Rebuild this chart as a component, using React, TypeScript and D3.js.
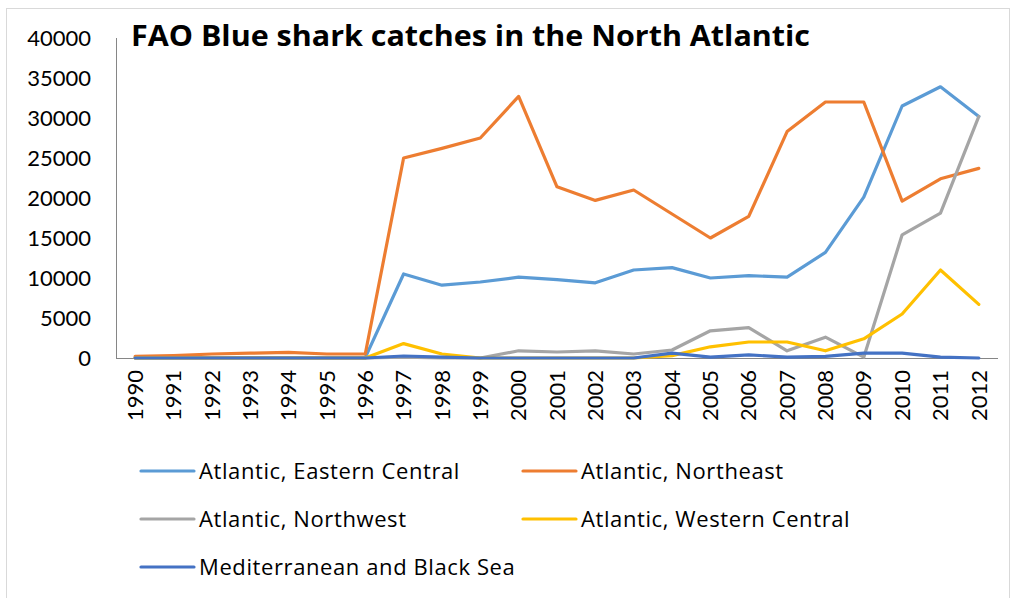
import { useMemo } from 'react';
import * as d3 from 'd3';

const years = [
    '1990', '1991', '1992', '1993', '1994', '1995', '1996', '1997', '1998', '1999', '2000', '2001',
    '2002', '2003', '2004', '2005', '2006', '2007', '2008', '2009', '2010', '2011', '2012',
];

const easternCentral = [
    50, 50, 50, 50, 50, 50, 50, 10500, 9100, 9500, 10100, 9800, 9400, 11000, 11300, 10000, 10300, 10100, 13200,
    20100, 31500, 33900, 30200,
];
const northeast = [
    200, 300, 500, 600, 700, 500, 500, 25000, 26200, 27500, 32700, 21400, 19700, 21000, 18000, 15000, 17700,
    28300, 32000, 32000, 19600, 22400, 23700,
];
const northwest = [
    0, 0, 0, 0, 0, 0, 0, 100, 0, 0, 900, 750, 900, 500, 1000, 3400, 3800, 900, 2600, 100, 15400, 18100, 30200,
];
const westernCentral = [
    0, 0, 0, 0, 0, 0, 0, 1800, 500, 0, 0, 0, 0, 0, 300, 1400, 2000, 2000, 900, 2400, 5500, 11000, 6700,
];
const mediterranean = [
    0, 0, 0, 0, 0, 0, 0, 250, 100, 0, 0, 0, 0, 0, 600, 100, 400, 100, 200, 600, 600, 100, 0,
];

const yTicks = [0, 5000, 10000, 15000, 20000, 25000, 30000, 35000, 40000];

const series = [
    { name: 'Atlantic, Eastern Central', values: easternCentral, color: '#5B9BD5' },
    { name: 'Atlantic, Northeast', values: northeast, color: '#ED7D31' },
    { name: 'Atlantic, Northwest', values: northwest, color: '#A5A5A5' },
    { name: 'Atlantic, Western Central', values: westernCentral, color: '#FFC000' },
    { name: 'Mediterranean and Black Sea', values: mediterranean, color: '#4472C4' },
];

const WIDTH = 1014;
const HEIGHT = 598;
const FONT = 'Lato, "Open Sans", sans-serif';
const LEGEND_FONT = '"Open Sans", Lato, sans-serif';

export default function App() {
    const plot = { left: 116, right: 998, top: 38, bottom: 358 };

    const x = useMemo(
        () => d3.scalePoint<string>().domain(years).range([plot.left, plot.right]).padding(0.5),
        []
    );
    const y = useMemo(() => d3.scaleLinear().domain([0, 40000]).range([plot.bottom, plot.top]), []);

    const line = d3
        .line<number>()
        .x((_, i) => x(years[i]) ?? 0)
        .y((v) => y(v));

    // legend laid out in two columns, like the spreadsheet default
    const legendRows = [
        [series[0], series[1]],
        [series[2], series[3]],
        [series[4]],
    ];

    return (
        <svg
            width={WIDTH}
            height={HEIGHT}
            style={{ position: 'absolute', left: 0, top: 0, background: '#fff' }}
            fontFamily={FONT}
        >
            <rect x={6.5} y={8.5} width={1003} height={600} fill="#fff" stroke="#D9D9D9" />

            {yTicks.map((t) => (
                <text key={t} x={91} y={y(t)} dy="0.35em" textAnchor="end" fontSize={22} fill="#000">
                    {t}
                </text>
            ))}

            <line x1={plot.left + 0.5} x2={plot.left + 0.5} y1={plot.top} y2={plot.bottom} stroke="#868686" />
            <line x1={plot.left} x2={plot.right} y1={plot.bottom + 0.5} y2={plot.bottom + 0.5} stroke="#868686" />

            {years.map((yr) => (
                <text
                    key={yr}
                    transform={`translate(${x(yr)},${plot.bottom + 12}) rotate(-90)`}
                    textAnchor="end"
                    dy="0.35em"
                    fontSize={22}
                    fill="#000"
                >
                    {yr}
                </text>
            ))}

            {series.map((s) => (
                <path
                    key={s.name}
                    d={line(s.values) ?? ''}
                    fill="none"
                    stroke={s.color}
                    strokeWidth={3.2}
                    strokeLinejoin="round"
                    strokeLinecap="round"
                />
            ))}

            <text
                x={131}
                y={46}
                fontSize={28}
                fontWeight={700}
                fill="#000"
                fontFamily={LEGEND_FONT}
                textLength={679}
                lengthAdjust="spacingAndGlyphs"
            >
                FAO Blue shark catches in the North Atlantic
            </text>

            {legendRows.map((row, ri) =>
                row.map((s, ci) => {
                    const lx = ci === 0 ? 141 : 523;
                    const ly = 471 + ri * 48;
                    return (
                        <g key={s.name}>
                            <line
                                x1={lx}
                                x2={lx + 53}
                                y1={ly}
                                y2={ly}
                                stroke={s.color}
                                strokeWidth={3.2}
                                strokeLinecap="round"
                            />
                            <text
                                x={lx + 58}
                                y={ly}
                                dy="0.35em"
                                fontSize={22}
                                letterSpacing={0.6}
                                fill="#000"
                                fontFamily={LEGEND_FONT}
                            >
                                {s.name}
                            </text>
                        </g>
                    );
                })
            )}
        </svg>
    );
}
